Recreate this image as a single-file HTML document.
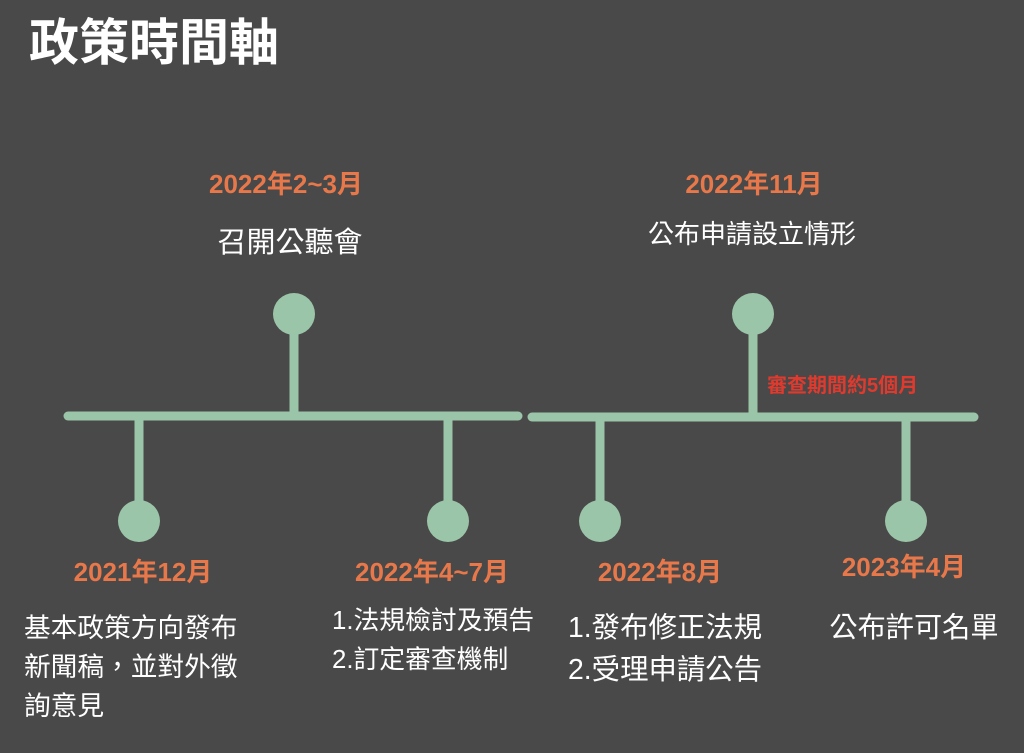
<!DOCTYPE html>
<html><head><meta charset="utf-8"><style>
html,body{margin:0;padding:0;background:#494949;}
svg{display:block}
text{font-family:"Liberation Sans","Noto Sans CJK TC",sans-serif;}
</style></head><body>
<svg width="1024" height="753" viewBox="0 0 1024 753">
<rect width="1024" height="753" fill="#494949"/>
<text x="29" y="60" font-size="50" font-weight="bold" fill="#fff">政策時間軸</text>
<g stroke="#9bc5a8" stroke-width="9" stroke-linecap="round" fill="none">
<line x1="68" y1="416" x2="518" y2="416"/>
<line x1="532" y1="417" x2="974" y2="417"/>
<line x1="294" y1="320" x2="294" y2="416"/>
<line x1="753" y1="320" x2="753" y2="417"/>
<line x1="139" y1="416" x2="139" y2="515"/>
<line x1="448" y1="416" x2="448" y2="515"/>
<line x1="600" y1="417" x2="600" y2="515"/>
<line x1="906" y1="417" x2="906" y2="515"/>
</g>
<g fill="#9bc5a8">
<circle cx="294" cy="314" r="21"/>
<circle cx="753" cy="314" r="21"/>
<circle cx="139" cy="521" r="21"/>
<circle cx="448" cy="521" r="21"/>
<circle cx="600" cy="521" r="21"/>
<circle cx="906" cy="521" r="21"/>
</g>
<g font-size="26" font-weight="bold" fill="#e8784a" text-anchor="middle">
<text x="286" y="193">2022年2~3月</text>
<text x="754" y="193">2022年11月</text>
<text x="143" y="581">2021年12月</text>
<text x="432" y="581">2022年4~7月</text>
<text x="660" y="581">2022年8月</text>
<text x="904" y="576">2023年4月</text>
</g>
<text x="767" y="392" font-size="20" font-weight="bold" fill="#e03a2e">審查期間約5個月</text>
<g fill="#fff">
<text x="290" y="252" text-anchor="middle" font-size="29">召開公聽會</text>
<text x="752" y="243" text-anchor="middle" font-size="26">公布申請設立情形</text>
<g font-size="26.7">
<text x="24" y="637">基本政策方向發布</text>
<text x="24" y="676">新聞稿，並對外徵</text>
<text x="24" y="715">詢意見</text>
</g>
<g font-size="25.8">
<text x="332" y="629">1.法規檢討及預告</text>
<text x="332" y="668">2.訂定審查機制</text>
</g>
<g font-size="28.4">
<text x="568" y="637">1.發布修正法規</text>
<text x="568" y="679">2.受理申請公告</text>
</g>
<text x="914" y="637" text-anchor="middle" font-size="28.2">公布許可名單</text>
</g>
</svg>
</body></html>
